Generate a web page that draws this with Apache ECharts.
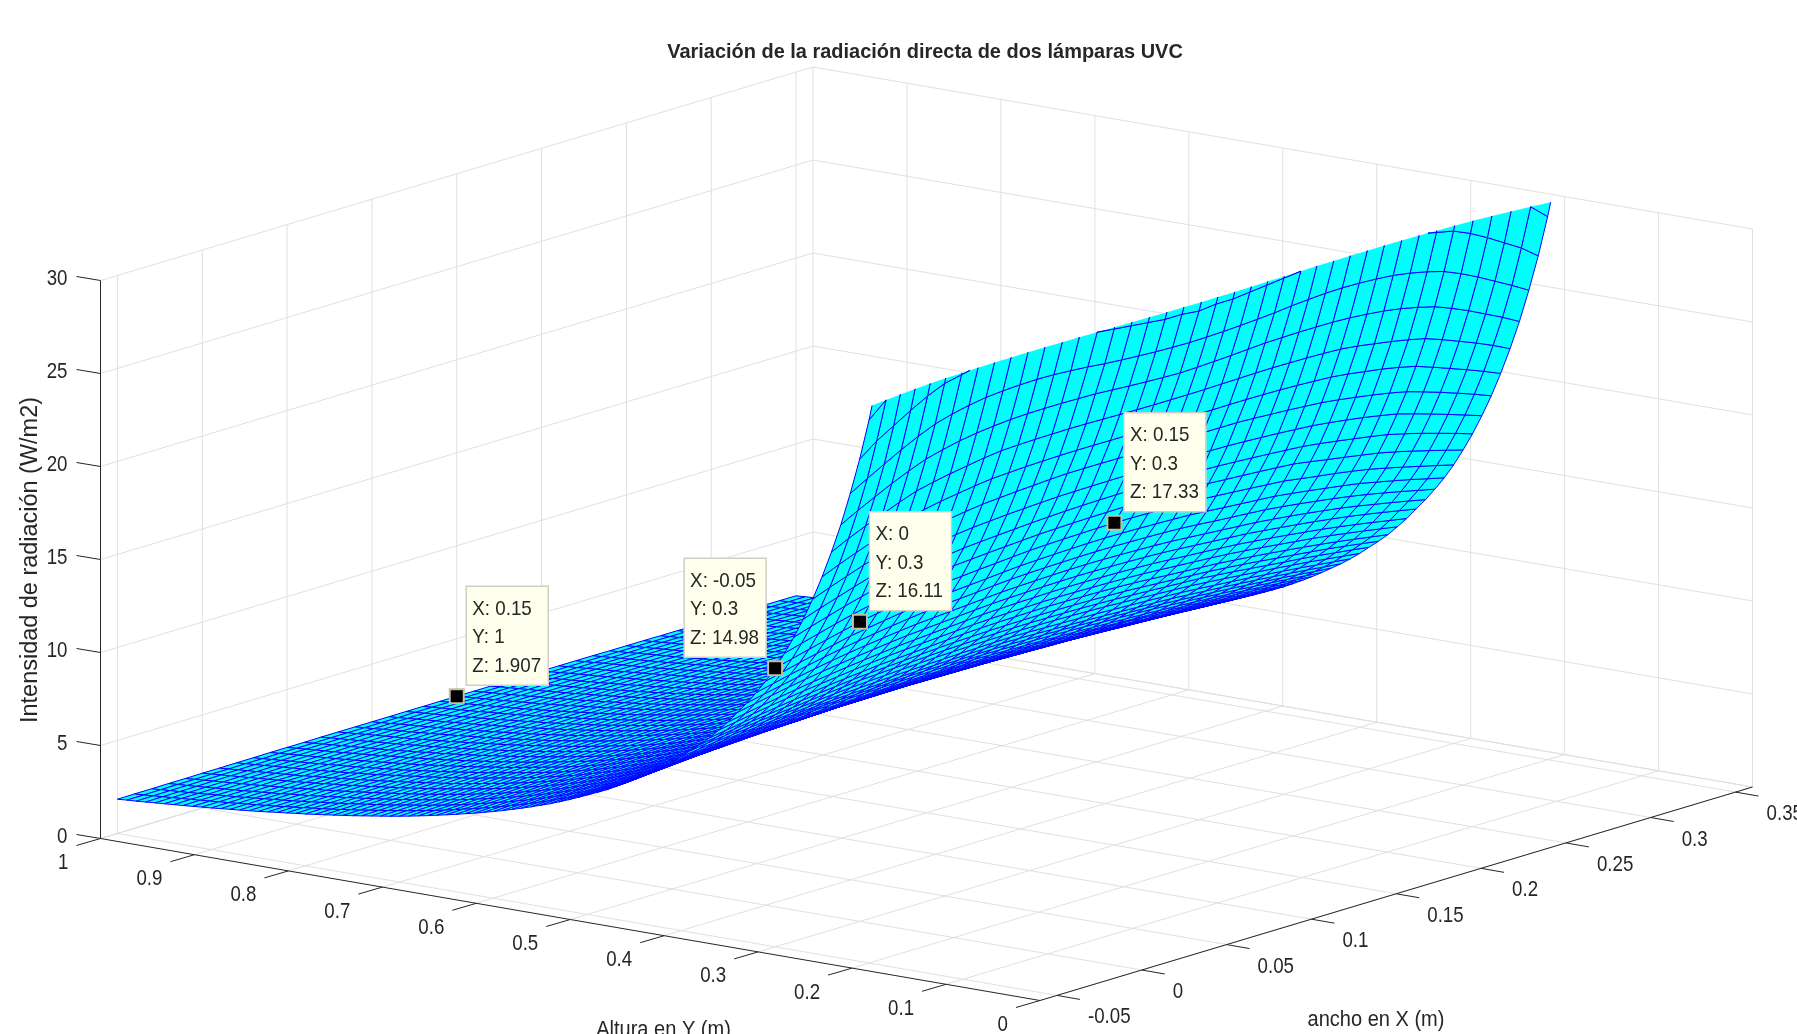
<!DOCTYPE html>
<html>
<head>
<meta charset="utf-8">
<title>Variación de la radiación directa de dos lámparas UVC</title>
<style>
html,body{margin:0;padding:0;background:#fff}
#main{width:1797px;height:1034px}
</style>
<script src="https://cdn.jsdelivr.net/npm/echarts@6/dist/echarts.min.js"></script>
</head>
<body>
<div id="main"></div>
<script>
var titleText = 'Variación de la radiación directa de dos lámparas UVC';
var xTitle = 'ancho en X (m)';
var yTitle = 'Altura en Y (m)';
var zTitle = 'Intensidad de radiación (W/m2)';

var xLim = [-0.06, 0.36];
var yLim = [0, 1];
var zLim = [0, 30];
var xTicks = [-0.05, 0, 0.05, 0.1, 0.15, 0.2, 0.25, 0.3, 0.35];
var yTicks = [0, 0.1, 0.2, 0.3, 0.4, 0.5, 0.6, 0.7, 0.8, 0.9, 1];
var zTicks = [0, 5, 10, 15, 20, 25, 30];

var tipX = [0.15, -0.05, 0, 0.15];
var tipY = [1, 0.3, 0.3, 0.3];
var tipZ = [1.907, 14.98, 16.11, 17.33];

var xNodes = [-0.05,-0.04,-0.03,-0.02,-0.01,0,0.01,0.02,0.03,0.04,0.05,0.06,0.07,0.08,0.09,0.1,0.11,0.12,0.13,0.14,0.15,
  0.16,0.17,0.18,0.19,0.2,0.21,0.22,0.23,0.24,0.25,0.26,0.27,0.28,0.29,0.3,0.31,0.32,0.33,0.34,0.35];
var yNodes = [0.19,0.2,0.21,0.22,0.23,0.24,0.25,0.26,0.27,0.28,0.29,0.3,0.31,0.32,0.33,0.34,0.35,0.36,0.37,0.38,0.39,
  0.4,0.41,0.42,0.43,0.44,0.45,0.46,0.47,0.48,0.49,0.5,0.51,0.52,0.53,0.54,0.55,0.56,0.57,0.58,0.59,
  0.6,0.61,0.62,0.63,0.64,0.65,0.66,0.67,0.68,0.69,0.7,0.71,0.72,0.73,0.74,0.75,0.76,0.77,0.78,0.79,
  0.8,0.81,0.82,0.83,0.84,0.85,0.86,0.87,0.88,0.89,0.9,0.91,0.92,0.93,0.94,0.95,0.96,0.97,0.98,0.99,1];

// Z per row of yNodes, for X = -0.05 .. 0.15 (the surface is mirrored around X = 0.15).
// Tips, edges and top rows were read off the picture. Other nodes are estimates,
// kept coherent with the inverse-square shape those readings follow.
var zHalf = [
[31.7,32.4,33.1,33.8,34.5,35.1,35.3,35.4,35.5,35.5,35.5,35.4,35.2,35.0,34.7,34.4,34.2,34.0,33.8,33.7,33.6],
[29.2,30.0,30.7,31.3,31.8,32.2,32.5,32.7,32.8,32.8,32.8,32.6,32.5,32.3,32.2,32.0,31.9,31.7,31.6,31.6,31.5],
[27.0,27.7,28.25,28.8,29.3,29.7,29.9,30.1,30.2,30.3,30.3,30.3,30.2,30.2,30.0,29.9,29.8,29.7,29.6,29.6,29.5],
[25.07,25.6,26.1,26.6,27.05,27.44,27.7,27.9,28.05,28.13,28.18,28.2,28.18,28.12,28.05,27.95,27.88,27.82,27.77,27.74,27.72],
[23.3,23.8,24.25,24.7,25.1,25.46,25.7,25.9,26.05,26.15,26.23,26.27,26.28,26.28,26.26,26.24,26.18,26.12,26.07,26.03,26.0],
[21.75,22.2,22.6,22.97,23.33,23.66,23.87,24.05,24.2,24.35,24.46,24.5,24.53,24.54,24.55,24.54,24.52,24.5,24.48,24.47,24.47],
[20.33,20.72,21.08,21.42,21.76,22.08,22.3,22.48,22.62,22.76,22.87,22.92,22.97,23.0,23.02,23.03,23.03,23.02,23.02,23.01,23.01],
[19.04,19.4,19.73,20.05,20.35,20.63,20.83,21.0,21.15,21.29,21.41,21.48,21.55,21.6,21.66,21.7,21.7,21.7,21.69,21.68,21.67],
[17.88,18.2,18.5,18.8,19.08,19.35,19.53,19.7,19.84,19.97,20.08,20.15,20.22,20.27,20.32,20.36,20.38,20.39,20.4,20.4,20.4],
[16.82,17.12,17.4,17.67,17.92,18.15,18.32,18.47,18.62,18.76,18.88,18.95,19.02,19.08,19.14,19.19,19.23,19.26,19.28,19.29,19.3],
[15.87,16.13,16.38,16.63,16.86,17.07,17.23,17.39,17.54,17.7,17.85,17.92,17.99,18.05,18.11,18.17,18.2,18.23,18.25,18.26,18.27],
[14.98,15.22,15.45,15.68,15.9,16.11,16.28,16.43,16.56,16.7,16.85,16.92,17.0,17.07,17.14,17.21,17.25,17.28,17.3,17.32,17.33],
[14.2,14.42,14.65,14.86,15.06,15.26,15.41,15.55,15.69,15.82,15.94,16.01,16.08,16.15,16.23,16.3,16.34,16.37,16.4,16.42,16.43],
[13.5,13.71,13.92,14.12,14.31,14.48,14.63,14.77,14.9,15.02,15.13,15.2,15.27,15.34,15.42,15.49,15.53,15.56,15.58,15.6,15.61],
[12.85,13.05,13.24,13.42,13.6,13.76,13.9,14.03,14.15,14.26,14.36,14.43,14.5,14.57,14.64,14.71,14.75,14.78,14.81,14.83,14.84],
[12.26,12.44,12.62,12.79,12.95,13.09,13.22,13.34,13.45,13.56,13.66,13.73,13.8,13.87,13.94,14.0,14.04,14.07,14.09,14.11,14.12],
[11.66,11.83,12.0,12.16,12.31,12.45,12.57,12.69,12.8,12.9,13.0,13.07,13.14,13.2,13.27,13.33,13.37,13.4,13.42,13.44,13.45],
[11.13,11.29,11.45,11.6,11.74,11.87,11.98,12.09,12.2,12.3,12.39,12.46,12.52,12.58,12.64,12.7,12.74,12.77,12.79,12.81,12.82],
[10.62,10.77,10.92,11.06,11.19,11.31,11.42,11.53,11.63,11.72,11.81,11.87,11.93,11.99,12.06,12.12,12.16,12.19,12.21,12.23,12.24],
[10.18,10.32,10.46,10.59,10.7,10.81,10.91,11.02,11.12,11.21,11.29,11.35,11.41,11.47,11.53,11.58,11.61,11.64,11.66,11.67,11.68],
[9.77,9.9,10.02,10.14,10.25,10.34,10.44,10.54,10.64,10.73,10.82,10.87,10.92,10.97,11.02,11.07,11.1,11.13,11.15,11.16,11.17],
[9.35,9.47,9.59,9.71,9.81,9.91,10.0,10.09,10.18,10.26,10.34,10.39,10.44,10.49,10.54,10.59,10.62,10.65,10.67,10.68,10.69],
[8.97,9.08,9.19,9.3,9.4,9.49,9.58,9.66,9.74,9.82,9.89,9.94,9.99,10.03,10.07,10.11,10.14,10.17,10.19,10.22,10.23],
[8.62,8.72,8.83,8.93,9.02,9.11,9.19,9.27,9.34,9.41,9.48,9.52,9.56,9.6,9.64,9.68,9.71,9.74,9.77,9.79,9.81],
[8.3,8.39,8.49,8.58,8.67,8.75,8.83,8.9,8.97,9.04,9.1,9.14,9.18,9.22,9.26,9.3,9.33,9.35,9.37,9.39,9.4],
[7.98,8.07,8.16,8.25,8.33,8.41,8.48,8.55,8.62,8.68,8.74,8.78,8.82,8.85,8.89,8.92,8.95,8.97,8.99,9.01,9.02],
[7.68,7.77,7.85,7.93,8.01,8.08,8.15,8.21,8.27,8.32,8.37,8.41,8.45,8.48,8.52,8.55,8.58,8.6,8.62,8.65,8.67],
[7.4,7.48,7.56,7.64,7.71,7.78,7.84,7.9,7.95,8.0,8.04,8.08,8.12,8.16,8.2,8.24,8.26,8.28,8.3,8.31,8.32],
[7.13,7.2,7.28,7.35,7.42,7.49,7.55,7.61,7.66,7.72,7.77,7.8,7.83,7.86,7.89,7.92,7.95,7.97,7.99,8.01,8.02],
[6.87,6.94,7.01,7.08,7.15,7.22,7.27,7.32,7.37,7.42,7.47,7.5,7.53,7.56,7.6,7.63,7.65,7.67,7.69,7.7,7.71],
[6.64,6.7,6.77,6.84,6.9,6.96,7.01,7.06,7.11,7.16,7.2,7.23,7.26,7.3,7.33,7.36,7.38,7.4,7.41,7.42,7.43],
[6.42,6.48,6.54,6.6,6.66,6.71,6.76,6.81,6.86,6.91,6.95,6.98,7.01,7.04,7.07,7.1,7.12,7.13,7.14,7.15,7.16],
[6.2,6.26,6.31,6.37,6.43,6.48,6.53,6.58,6.62,6.67,6.71,6.74,6.77,6.79,6.82,6.85,6.87,6.88,6.89,6.9,6.91],
[5.99,6.04,6.1,6.15,6.21,6.26,6.31,6.35,6.4,6.44,6.48,6.51,6.53,6.56,6.58,6.61,6.62,6.63,6.64,6.65,6.66],
[5.79,5.84,5.89,5.95,6.0,6.05,6.09,6.13,6.18,6.22,6.26,6.28,6.31,6.33,6.36,6.38,6.39,6.4,6.41,6.42,6.43],
[5.6,5.65,5.7,5.76,5.81,5.86,5.9,5.94,5.97,6.01,6.05,6.07,6.09,6.12,6.14,6.16,6.17,6.18,6.19,6.2,6.21],
[5.43,5.48,5.53,5.58,5.62,5.67,5.71,5.74,5.77,5.81,5.84,5.86,5.88,5.91,5.93,5.95,5.96,5.97,5.98,5.99,6.0],
[5.26,5.3,5.35,5.4,5.44,5.49,5.52,5.55,5.59,5.62,5.65,5.67,5.69,5.71,5.73,5.75,5.76,5.77,5.78,5.79,5.8],
[5.1,5.14,5.19,5.23,5.28,5.32,5.35,5.38,5.41,5.44,5.47,5.49,5.51,5.53,5.55,5.57,5.58,5.59,5.6,5.6,5.61],
[4.95,4.99,5.03,5.07,5.11,5.15,5.18,5.21,5.24,5.27,5.3,5.32,5.34,5.35,5.37,5.39,5.4,5.41,5.42,5.42,5.43],
[4.8,4.84,4.88,4.92,4.95,4.99,5.02,5.05,5.08,5.11,5.14,5.16,5.17,5.19,5.2,5.22,5.23,5.24,5.25,5.25,5.26],
[4.66,4.7,4.73,4.77,4.8,4.84,4.87,4.9,4.93,4.95,4.98,5.0,5.01,5.03,5.04,5.06,5.07,5.08,5.09,5.09,5.1],
[4.53,4.56,4.6,4.63,4.67,4.7,4.73,4.76,4.78,4.81,4.83,4.85,4.86,4.88,4.89,4.91,4.92,4.93,4.94,4.94,4.95],
[4.4,4.43,4.46,4.5,4.53,4.56,4.59,4.62,4.64,4.67,4.69,4.71,4.72,4.74,4.75,4.77,4.78,4.78,4.79,4.8,4.8],
[4.28,4.31,4.34,4.37,4.4,4.43,4.45,4.48,4.5,4.53,4.55,4.56,4.58,4.59,4.61,4.62,4.63,4.63,4.64,4.64,4.65],
[4.16,4.19,4.22,4.25,4.27,4.3,4.32,4.34,4.37,4.39,4.41,4.42,4.44,4.45,4.47,4.48,4.49,4.49,4.5,4.5,4.51],
[4.05,4.08,4.1,4.13,4.15,4.18,4.2,4.22,4.24,4.26,4.28,4.29,4.31,4.32,4.34,4.35,4.36,4.36,4.37,4.37,4.38],
[3.94,3.96,3.99,4.01,4.04,4.06,4.08,4.1,4.12,4.14,4.16,4.17,4.19,4.2,4.22,4.23,4.24,4.24,4.25,4.25,4.26],
[3.83,3.85,3.87,3.9,3.92,3.95,3.97,3.99,4.0,4.02,4.04,4.05,4.07,4.08,4.1,4.11,4.12,4.12,4.13,4.13,4.14],
[3.73,3.75,3.77,3.79,3.82,3.84,3.86,3.88,3.89,3.91,3.93,3.94,3.96,3.97,3.99,4.0,4.0,4.01,4.01,4.02,4.02],
[3.63,3.65,3.67,3.69,3.72,3.74,3.76,3.78,3.79,3.81,3.83,3.84,3.85,3.86,3.88,3.89,3.89,3.9,3.9,3.91,3.91],
[3.54,3.56,3.58,3.6,3.62,3.64,3.66,3.68,3.69,3.71,3.73,3.74,3.75,3.76,3.78,3.79,3.79,3.8,3.8,3.81,3.81],
[3.45,3.47,3.49,3.51,3.53,3.55,3.57,3.59,3.6,3.62,3.63,3.64,3.65,3.67,3.68,3.69,3.69,3.7,3.7,3.71,3.71],
[3.37,3.39,3.41,3.42,3.44,3.46,3.48,3.5,3.51,3.53,3.54,3.55,3.56,3.57,3.58,3.59,3.59,3.6,3.6,3.61,3.61],
[3.29,3.31,3.33,3.34,3.36,3.37,3.39,3.41,3.42,3.44,3.45,3.46,3.47,3.48,3.49,3.5,3.5,3.51,3.51,3.52,3.52],
[3.21,3.23,3.24,3.26,3.27,3.29,3.3,3.32,3.33,3.35,3.36,3.37,3.38,3.39,3.4,3.41,3.41,3.42,3.42,3.43,3.43],
[3.13,3.15,3.16,3.18,3.19,3.21,3.22,3.23,3.25,3.26,3.27,3.28,3.29,3.3,3.31,3.32,3.32,3.33,3.33,3.34,3.34],
[3.06,3.07,3.09,3.1,3.12,3.13,3.14,3.16,3.17,3.19,3.2,3.21,3.21,3.22,3.23,3.24,3.24,3.25,3.25,3.26,3.26],
[2.99,3.0,3.02,3.03,3.05,3.06,3.07,3.08,3.1,3.11,3.12,3.13,3.13,3.14,3.15,3.16,3.16,3.17,3.17,3.18,3.18],
[2.92,2.93,2.95,2.96,2.98,2.99,3.0,3.01,3.02,3.03,3.04,3.05,3.05,3.06,3.07,3.08,3.08,3.08,3.09,3.09,3.09],
[2.85,2.86,2.88,2.89,2.91,2.92,2.93,2.94,2.95,2.96,2.97,2.98,2.98,2.99,2.99,3.0,3.0,3.0,3.01,3.01,3.01],
[2.79,2.8,2.81,2.83,2.84,2.85,2.86,2.87,2.88,2.89,2.9,2.91,2.91,2.92,2.92,2.93,2.93,2.93,2.94,2.94,2.94],
[2.73,2.74,2.75,2.76,2.78,2.79,2.8,2.81,2.81,2.82,2.83,2.84,2.84,2.85,2.85,2.86,2.86,2.86,2.87,2.87,2.87],
[2.67,2.68,2.69,2.7,2.71,2.72,2.73,2.74,2.75,2.76,2.77,2.77,2.78,2.78,2.79,2.79,2.79,2.8,2.8,2.8,2.8],
[2.61,2.62,2.63,2.64,2.65,2.66,2.67,2.68,2.68,2.69,2.7,2.71,2.71,2.72,2.72,2.73,2.73,2.73,2.74,2.74,2.74],
[2.55,2.56,2.57,2.58,2.59,2.6,2.61,2.62,2.62,2.63,2.64,2.65,2.65,2.66,2.66,2.67,2.67,2.67,2.68,2.68,2.68],
[2.49,2.5,2.51,2.52,2.53,2.54,2.55,2.55,2.56,2.57,2.58,2.59,2.59,2.6,2.6,2.61,2.61,2.61,2.62,2.62,2.62],
[2.44,2.45,2.46,2.47,2.48,2.49,2.5,2.5,2.51,2.52,2.53,2.53,2.54,2.54,2.55,2.55,2.55,2.56,2.56,2.56,2.56],
[2.39,2.4,2.41,2.42,2.43,2.44,2.44,2.45,2.46,2.46,2.47,2.48,2.48,2.49,2.49,2.5,2.5,2.5,2.5,2.5,2.5],
[2.34,2.35,2.36,2.36,2.37,2.38,2.39,2.39,2.4,2.41,2.42,2.42,2.43,2.43,2.44,2.44,2.44,2.45,2.45,2.45,2.45],
[2.29,2.3,2.31,2.31,2.32,2.33,2.34,2.34,2.35,2.36,2.37,2.37,2.38,2.38,2.39,2.39,2.39,2.39,2.39,2.39,2.39],
[2.24,2.25,2.26,2.26,2.27,2.28,2.29,2.29,2.3,2.31,2.32,2.32,2.33,2.33,2.34,2.34,2.34,2.34,2.34,2.34,2.34],
[2.2,2.21,2.21,2.22,2.23,2.24,2.24,2.25,2.26,2.26,2.27,2.27,2.28,2.28,2.29,2.29,2.29,2.29,2.29,2.29,2.29],
[2.15,2.16,2.17,2.17,2.18,2.19,2.19,2.2,2.21,2.21,2.22,2.22,2.23,2.23,2.24,2.24,2.24,2.24,2.24,2.24,2.24],
[2.11,2.12,2.13,2.13,2.14,2.15,2.15,2.16,2.17,2.17,2.18,2.18,2.19,2.19,2.2,2.2,2.2,2.2,2.2,2.2,2.2],
[2.07,2.08,2.08,2.09,2.1,2.11,2.11,2.12,2.12,2.13,2.13,2.14,2.14,2.15,2.15,2.15,2.15,2.15,2.15,2.15,2.15],
[2.03,2.04,2.04,2.05,2.06,2.07,2.07,2.08,2.08,2.09,2.09,2.1,2.1,2.11,2.11,2.11,2.11,2.11,2.11,2.11,2.11],
[1.99,2.0,2.0,2.01,2.02,2.03,2.03,2.04,2.04,2.05,2.05,2.06,2.06,2.07,2.07,2.07,2.07,2.07,2.07,2.07,2.07],
[1.95,1.96,1.96,1.97,1.98,1.99,1.99,2.0,2.0,2.01,2.01,2.02,2.02,2.03,2.03,2.03,2.03,2.03,2.03,2.03,2.03],
[1.91,1.92,1.93,1.93,1.94,1.95,1.95,1.96,1.96,1.97,1.97,1.97,1.98,1.98,1.98,1.98,1.98,1.99,1.99,1.99,1.99],
[1.88,1.88,1.89,1.9,1.9,1.91,1.91,1.92,1.92,1.93,1.93,1.93,1.94,1.94,1.94,1.94,1.94,1.95,1.95,1.95,1.95],
[1.84,1.85,1.85,1.86,1.86,1.87,1.87,1.88,1.88,1.89,1.89,1.89,1.9,1.9,1.9,1.9,1.9,1.905,1.905,1.906,1.907]
];

var zGrid = zHalf.map(function (row) {
  return row.concat(row.slice(0, 20).reverse());
});

// the MATLAB view is orthographic, so three axis vectors are enough
var origin = [1040, 1000.5];
var xVec = [712.5, -213.5];
var yVec = [-939.5, -162];
var zVec = 558;

var gridColor = '#e0e0e0';
var axisColor = '#262626';
var textColor = '#262626';
var tickFont = '22px "Liberation Sans", Arial, sans-serif';
var tipFont = '21px "Liberation Sans", Arial, sans-serif';
var titleFont = 'bold 21px "Liberation Sans", Arial, sans-serif';
var zTitleFont = '23px "Liberation Sans", Arial, sans-serif';

function proj(p) {
  var t = (p[0] - xLim[0]) / (xLim[1] - xLim[0]);
  var s = (p[1] - yLim[0]) / (yLim[1] - yLim[0]);
  var h = (p[2] - zLim[0]) / (zLim[1] - zLim[0]);
  return [origin[0] + t * xVec[0] + s * yVec[0], origin[1] + t * xVec[1] + s * yVec[1] - h * zVec];
}

function crossTop(a, b) {
  var k = (zLim[1] - a[2]) / (b[2] - a[2]);
  return [a[0] + (b[0] - a[0]) * k, a[1] + (b[1] - a[1]) * k, zLim[1]];
}

// cut a cell at the top of the z axis, the reference surface stops there
function clipPoly(pts) {
  var out = [];
  for (var i = 0; i < pts.length; i++) {
    var a = pts[i], b = pts[(i + 1) % pts.length];
    var aIn = a[2] <= zLim[1], bIn = b[2] <= zLim[1];
    if (aIn) out.push(a);
    if (aIn !== bIn) out.push(crossTop(a, b));
  }
  return out;
}

function clipSeg(a, b) {
  var aIn = a[2] <= zLim[1], bIn = b[2] <= zLim[1];
  if (aIn && bIn) return [a, b];
  if (!aIn && !bIn) return null;
  return aIn ? [a, crossTop(a, b)] : [crossTop(a, b), b];
}

function label(api, px, text, align, sx, font, rot) {
  var c = api.coord(px);
  return {
    type: 'text', x: c[0], y: c[1], scaleX: sx || 1, rotation: rot || 0,
    style: { text: text, font: font || tickFont, fill: textColor, align: align, verticalAlign: 'middle' }
  };
}

function line(api, a, b, color) {
  var p = api.coord(a), q = api.coord(b);
  return { type: 'line', shape: { x1: p[0], y1: p[1], x2: q[0], y2: q[1] }, style: { stroke: color, lineWidth: 1 } };
}

// light lines on the floor and on the two back walls
var gridSegs = [];
xTicks.forEach(function (x) {
  gridSegs.push([[x, yLim[0], 0], [x, yLim[1], 0]]);
  gridSegs.push([[x, yLim[1], 0], [x, yLim[1], zLim[1]]]);
});
yTicks.forEach(function (y) {
  gridSegs.push([[xLim[0], y, 0], [xLim[1], y, 0]]);
  gridSegs.push([[xLim[1], y, 0], [xLim[1], y, zLim[1]]]);
});
zTicks.forEach(function (z) {
  gridSegs.push([[xLim[0], yLim[1], z], [xLim[1], yLim[1], z]]);
  gridSegs.push([[xLim[1], yLim[1], z], [xLim[1], yLim[0], z]]);
});
gridSegs.push([[xLim[0], yLim[1], 0], [xLim[1], yLim[1], 0]]);
gridSegs.push([[xLim[1], yLim[0], 0], [xLim[1], yLim[1], 0]]);

// far cells first, the lower Y and lower X are nearest to the viewer
var cells = [];
for (var j = yNodes.length - 2; j >= 0; j--) {
  for (var i = xNodes.length - 2; i >= 0; i--) {
    cells.push([i, j]);
  }
}

function renderGrid(params, api) {
  var s = gridSegs[params.dataIndex];
  return line(api, proj(s[0]), proj(s[1]), gridColor);
}

function renderCell(params, api) {
  var c = cells[params.dataIndex];
  var i = c[0], j = c[1];
  var pts = [
    [xNodes[i], yNodes[j], zGrid[j][i]],
    [xNodes[i + 1], yNodes[j], zGrid[j][i + 1]],
    [xNodes[i + 1], yNodes[j + 1], zGrid[j + 1][i + 1]],
    [xNodes[i], yNodes[j + 1], zGrid[j + 1][i]]
  ];
  var toPx = function (p) { return api.coord(proj(p)); };
  var over = pts.filter(function (p) { return p[2] > zLim[1]; }).length;
  if (over === 4) return null;
  if (over === 0) {
    return {
      type: 'polygon', shape: { points: pts.map(toPx) },
      style: { fill: '#00ffff', stroke: '#0000ff', lineWidth: 1 }
    };
  }
  var kids = [{ type: 'polygon', shape: { points: clipPoly(pts).map(toPx) }, style: { fill: '#00ffff' } }];
  for (var k = 0; k < 4; k++) {
    var seg = clipSeg(pts[k], pts[(k + 1) % 4]);
    if (seg) kids.push(line(api, proj(seg[0]), proj(seg[1]), '#0000ff'));
  }
  return { type: 'group', children: kids };
}

function renderAxes(params, api) {
  var kids = [];
  var xMin = xLim[0], left = [xMin, yLim[1], 0], front = [xMin, yLim[0], 0], right = [xLim[1], yLim[0], 0];
  kids.push(line(api, proj(left), proj([xMin, yLim[1], zLim[1]]), axisColor));
  kids.push(line(api, proj(left), proj(front), axisColor));
  kids.push(line(api, proj(front), proj(right), axisColor));
  zTicks.forEach(function (z) {
    var p = proj([xMin, yLim[1], z]);
    kids.push(line(api, p, [p[0] - 24, p[1] - 4], axisColor));
    kids.push(label(api, [p[0] - 33, p[1] - 2], String(z), 'right', 0.85));
  });
  yTicks.forEach(function (y) {
    var p = proj([xMin, y, 0]);
    kids.push(line(api, p, [p[0] - 24, p[1] + 7], axisColor));
    kids.push(label(api, [p[0] - 32, p[1] + 24.5], String(y), 'right', 0.85));
  });
  xTicks.forEach(function (x) {
    var p = proj([x, yLim[0], 0]);
    kids.push(line(api, p, [p[0] + 23, p[1] + 4], axisColor));
    kids.push(label(api, [p[0] + 31, p[1] + 22], String(x), 'left', 0.85));
  });
  kids.push(label(api, [1376, 1020], xTitle, 'center', 0.91));
  kids.push(label(api, [663.5, 1030], yTitle, 'center', 0.91));
  kids.push(label(api, [31, 560], zTitle, 'center', 1.02, zTitleFont, Math.PI / 2));
  kids.push(label(api, [925, 52], titleText, 'center', 0.95, titleFont));
  return { type: 'group', children: kids };
}

function renderTip(params, api) {
  var n = params.dataIndex;
  var m = proj([tipX[n], tipY[n], tipZ[n]]);
  var mc = api.coord(m);
  var boxLeft = tipX[n] < 0 ? m[0] - 9 - 82 : m[0] + 9.5;
  var boxTop = m[1] - 11 - 99;
  var bc = api.coord([boxLeft, boxTop]);
  var rows = ['X: ' + tipX[n], 'Y: ' + tipY[n], 'Z: ' + tipZ[n]];
  var kids = [
    { type: 'rect', shape: { x: bc[0], y: bc[1], width: 82, height: 99 }, style: { fill: '#ffffee', stroke: '#cfcfc4', lineWidth: 1.5 } },
    { type: 'rect', shape: { x: mc[0] - 7, y: mc[1] - 7, width: 14, height: 14 }, style: { fill: '#000', stroke: '#c4bfa4', lineWidth: 2 } }
  ];
  rows.forEach(function (t, r) {
    kids.push(label(api, [boxLeft + 6, boxTop + 22.7 + r * 28.5], t, 'left', 0.895, tipFont));
  });
  return { type: 'group', children: kids };
}

function indexData(n) {
  var d = [];
  for (var i = 0; i < n; i++) d.push([i]);
  return d;
}

function layer(renderItem, count, z) {
  return {
    type: 'custom', renderItem: renderItem, data: indexData(count), z: z, silent: true,
    animation: false, progressive: 0, clip: false, encode: { x: 0 }
  };
}

var chart = echarts.init(document.getElementById('main'));
chart.setOption({
  backgroundColor: '#ffffff',
  animation: false,
  tooltip: { show: false },
  grid: { left: 0, right: 0, top: 0, bottom: 0 },
  xAxis: { type: 'value', min: 0, max: 1797, show: false },
  yAxis: { type: 'value', min: 0, max: 1034, inverse: true, show: false },
  series: [
    layer(renderGrid, gridSegs.length, 1),
    layer(renderCell, cells.length, 2),
    layer(renderAxes, 1, 3),
    layer(renderTip, tipX.length, 4)
  ]
});
</script>
</body>
</html>
